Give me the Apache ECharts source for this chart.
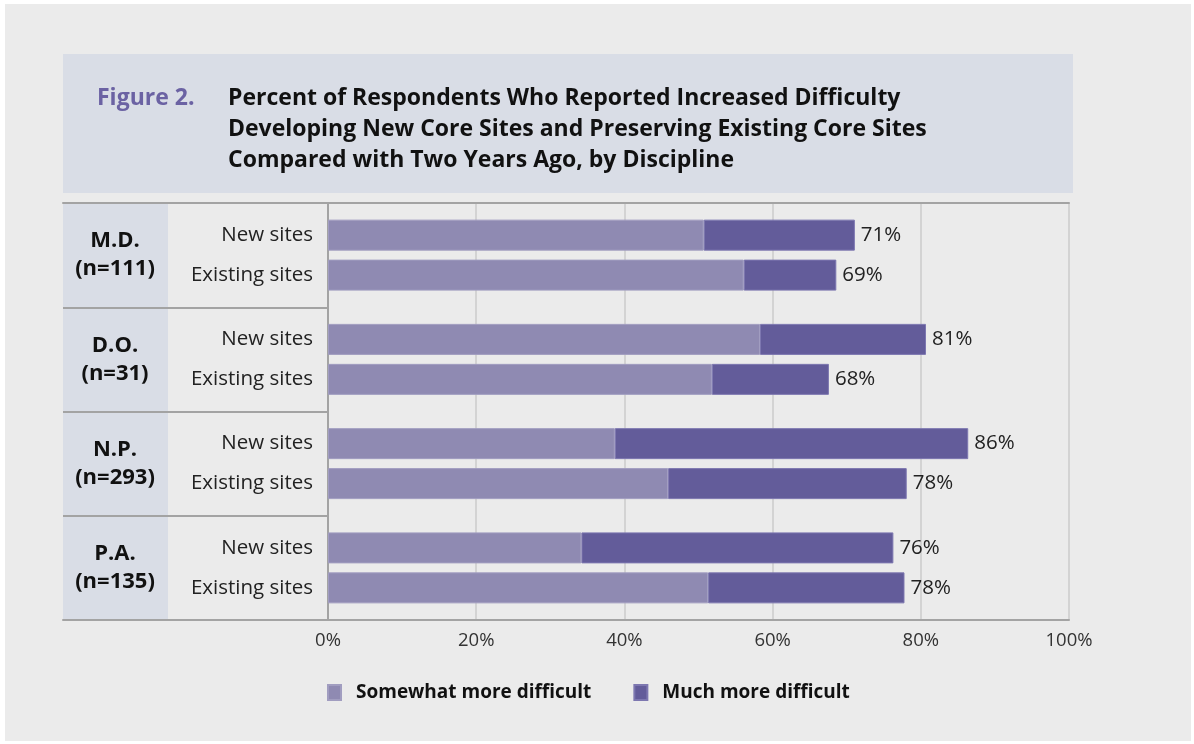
<!DOCTYPE html>
<html>
<head>
<meta charset="utf-8">
<script src="https://cdn.jsdelivr.net/npm/echarts@6/dist/echarts.min.js"></script>
<style>
  html, body { margin: 0; padding: 0; background: #ffffff; }
  #chart { width: 1194px; height: 744px; }
</style>
</head>
<body>
<div id="chart"></div>
<script>
// disciplines, top to bottom
const groups = ["M.D.", "D.O.", "N.P.", "P.A."];
const sampleSizes = ["n=111", "n=31", "n=293", "n=135"];
const rowNames = ["New sites", "Existing sites"];

// percent of respondents
const newSomewhat = [50.7, 58.3, 38.7, 34.2];
const newMuch = [20.4, 22.4, 47.7, 42.1];
const newTotal = [71, 81, 86, 76];
const existSomewhat = [56.1, 51.8, 45.9, 51.3];
const existMuch = [12.5, 15.8, 32.2, 26.5];
const existTotal = [69, 68, 78, 78];

const xTicks = [0, 20, 40, 60, 80, 100];
const legendNames = ["Somewhat more difficult", "Much more difficult"];

const FONT = "Open Sans";
const lightPurple = "#8f8ab2";
const darkPurple = "#635c9a";
const lineGrey = "#a3a3a3";

const chart = echarts.init(document.getElementById("chart"));

const rowLabel = (text) => ({
  show: true,
  position: "left",
  distance: 15,
  formatter: text,
  color: "#222",
  fontSize: 20.5,
  fontFamily: FONT,
});

const totalLabel = (totals) => ({
  show: true,
  position: "right",
  distance: 6,
  formatter: (p) => totals[p.dataIndex] + "%",
  color: "#222",
  fontSize: 20.5,
  fontFamily: FONT,
});

const barCommon = {
  type: "bar",
  xAxisIndex: 0,
  yAxisIndex: 0,
  barWidth: 31,
  barGap: "29%",
  silent: true,
};

const option = {
  backgroundColor: "#ffffff",
  animation: false,
  textStyle: { fontFamily: FONT },
  graphic: [
    { type: "rect", z: -10, shape: { x: 5, y: 4, width: 1186, height: 737 }, style: { fill: "#ebebeb" } },
    { type: "rect", z: -9, shape: { x: 63, y: 54, width: 1010, height: 139 }, style: { fill: "#d9dde6" } },
    { type: "rect", z: -9, shape: { x: 63, y: 203, width: 105, height: 417 }, style: { fill: "#d9dde6" } },
  ],
  title: [
    {
      text: "Figure 2.",
      left: 92,
      top: 78,
      padding: 5,
      textStyle: { color: "#6b62a3", fontSize: 23, fontWeight: "bold", fontFamily: FONT, lineHeight: 31 },
    },
    {
      text: "Percent of Respondents Who Reported Increased Difficulty\nDeveloping New Core Sites and Preserving Existing Core Sites\nCompared with Two Years Ago, by Discipline",
      left: 223,
      top: 78,
      padding: 5,
      textStyle: { color: "#111", fontSize: 23, fontWeight: "bold", fontFamily: FONT, lineHeight: 31 },
    },
  ],
  legend: {
    left: 322,
    top: 678,
    icon: "rect",
    itemWidth: 13,
    itemHeight: 15,
    itemGap: 42,
    data: legendNames,
    textStyle: { color: "#111", fontSize: 19, fontWeight: "bold", fontFamily: FONT, padding: [0, 0, 0, 10] },
  },
  grid: [
    { left: 328, right: 125, top: 203, bottom: 124 },
    { left: 63, width: 265, top: 203, bottom: 124 },
  ],
  xAxis: [
    {
      gridIndex: 0,
      type: "value",
      min: 0,
      max: 100,
      interval: 20,
      axisLine: { show: true, lineStyle: { color: lineGrey, width: 2 } },
      axisTick: { show: false },
      splitLine: { show: true, lineStyle: { color: "#d3d3d3", width: 2 } },
      axisLabel: {
        formatter: (v) => (xTicks.includes(v) ? v + "%" : ""),
        color: "#333",
        fontSize: 18.5,
        fontFamily: FONT,
        margin: 11,
      },
    },
    {
      gridIndex: 0,
      type: "value",
      position: "top",
      min: 0,
      max: 100,
      axisLine: { show: true, lineStyle: { color: lineGrey, width: 2 } },
      axisTick: { show: false },
      axisLabel: { show: false },
      splitLine: { show: false },
    },
    {
      gridIndex: 1,
      type: "value",
      min: 0,
      max: 1,
      axisLine: { show: true, lineStyle: { color: lineGrey, width: 2 } },
      axisTick: { show: false },
      axisLabel: { show: false },
      splitLine: { show: false },
    },
    {
      gridIndex: 1,
      type: "value",
      position: "top",
      min: 0,
      max: 1,
      axisLine: { show: true, lineStyle: { color: lineGrey, width: 2 } },
      axisTick: { show: false },
      axisLabel: { show: false },
      splitLine: { show: false },
    },
  ],
  yAxis: [
    {
      gridIndex: 0,
      type: "category",
      inverse: true,
      data: groups.map((g, i) => g + "\n(" + sampleSizes[i] + ")"),
      axisLine: { show: true, lineStyle: { color: lineGrey, width: 2 } },
      axisTick: { show: false },
      axisLabel: {
        align: "center",
        margin: 213,
        color: "#111",
        fontSize: 22,
        fontWeight: "bold",
        fontFamily: FONT,
        lineHeight: 28,
        padding: [6, 0, 0, 0],
      },
    },
    {
      gridIndex: 1,
      type: "category",
      inverse: true,
      data: groups,
      axisLine: { show: false },
      axisTick: { show: false },
      axisLabel: { show: false },
      splitLine: { show: true, lineStyle: { color: lineGrey, width: 2 } },
    },
  ],
  series: [
    {
      ...barCommon,
      name: legendNames[0],
      stack: "new",
      data: newSomewhat,
      itemStyle: { color: lightPurple, borderColor: "#a19dc0", borderWidth: 1 },
      label: rowLabel(rowNames[0]),
    },
    {
      ...barCommon,
      name: legendNames[1],
      stack: "new",
      data: newMuch,
      itemStyle: { color: darkPurple, borderColor: "#7d77b0", borderWidth: 1 },
      label: totalLabel(newTotal),
    },
    {
      ...barCommon,
      name: legendNames[0],
      stack: "exist",
      data: existSomewhat,
      itemStyle: { color: lightPurple, borderColor: "#a19dc0", borderWidth: 1 },
      label: rowLabel(rowNames[1]),
    },
    {
      ...barCommon,
      name: legendNames[1],
      stack: "exist",
      data: existMuch,
      itemStyle: { color: darkPurple, borderColor: "#7d77b0", borderWidth: 1 },
      label: totalLabel(existTotal),
    },
  ],
};

chart.setOption(option);
</script>
</body>
</html>
